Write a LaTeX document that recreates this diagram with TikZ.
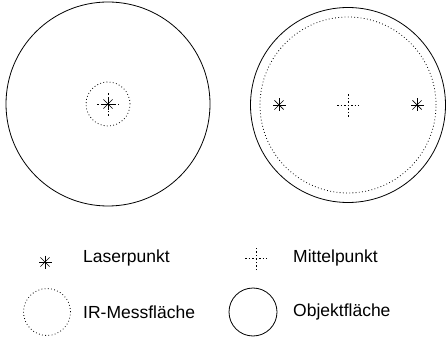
\documentclass[tikz,border=0pt]{standalone}
\usepackage{fontspec}
\setmainfont{Liberation Sans}
\newcommand\legendsize{\fontsize{17.5}{20}\selectfont}
\begin{document}
\begin{tikzpicture}[x=1pt,y=-1pt,
  solidcirc/.style={draw, line width=0.8pt},
  dotcirc/.style={draw, line width=0.8pt, dash pattern=on 0.8pt off 2.4pt},
  lbl/.style={anchor=west, font=\legendsize, inner sep=0pt},
  laser/.pic={
    \foreach \a in {0,45,90,135}
      \draw[line width=0.7pt] (\a:6.5pt) -- (\a+180:6.5pt);
  },
  centre/.pic={
    \draw[line width=0.6pt, dash pattern=on 1.5pt off 2pt] (-11pt,0) -- (11pt,0);
    \draw[line width=0.6pt, dash pattern=on 1.5pt off 2pt] (0,-12pt) -- (0,12pt);
  }]
\useasboundingbox (0,0) rectangle (447,339);

% left object: small measuring spot around the laser point
\node[solidcirc, circle, minimum size=204pt, inner sep=0pt] (objL) at (108,104) {};
\node[dotcirc, circle, minimum size=44pt, inner sep=0pt] (irL) at (108,104) {};
\pic at (irL.center) {centre};
\pic at (irL.center) {laser};

% right object: large measuring spot between two laser points
\node[solidcirc, circle, minimum size=195pt, inner sep=0pt] (objR) at (348,105) {};
\node[dotcirc, circle, minimum size=176pt, inner sep=0pt] (irR) at (348,105) {};
\pic at (objR.center) {centre};
\coordinate (lpA) at (279,105);
\coordinate (lpB) at (417,105);
\pic at (lpA) {laser};
\pic at (lpB) {laser};

% legend
\coordinate (kLaser) at (45,262);
\pic at (kLaser) {laser};
\node[lbl] (tLaser) at (83,258) {Laserpunkt};
\coordinate (kCentre) at (256,258);
\pic at (kCentre) {centre};
\node[lbl] (tCentre) at (293,258) {Mittelpunkt};
\node[dotcirc, circle, minimum size=47pt, inner sep=0pt] (kIR) at (47,312) {};
\node[lbl] (tIR) at (83,312) {IR-Messfläche};
\node[solidcirc, circle, minimum size=48pt, inner sep=0pt] (kObj) at (253,312) {};
\node[lbl] (tObj) at (293,312) {Objektfläche};
\end{tikzpicture}
\end{document}
